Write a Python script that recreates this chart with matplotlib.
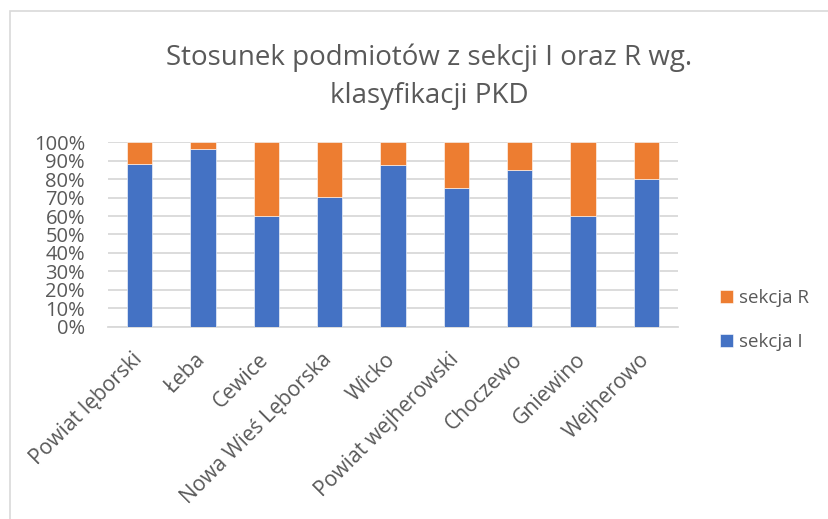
import matplotlib
matplotlib.use("Agg")
import matplotlib.pyplot as plt
import matplotlib.transforms as mtransforms
from matplotlib.patches import Rectangle
from matplotlib.ticker import FuncFormatter

categories = ["Powiat lęborski", "Łeba", "Cewice", "Nowa Wieś Lęborska", "Wicko",
              "Powiat wejherowski", "Choczewo", "Gniewino", "Wejherowo"]
sekcja_I = [88.4, 96.4, 60.2, 70.5, 87.5, 75.4, 85.2, 59.9, 80.3]
sekcja_R = [100 - v for v in sekcja_I]
yticks = list(range(0, 101, 10))

BLUE = "#4472C4"
ORANGE = "#ED7D31"
TXT = "#595959"
GRID = "#D9D9D9"
FONT = ["Open Sans", "DejaVu Sans"]

W, H = 829, 519
fig = plt.figure(figsize=(W / 100, H / 100), dpi=100)
fig.patch.set_facecolor("white")

# chart border (right and bottom edges lie outside the image)
fig.add_artist(Rectangle((10 / W, -0.05), 1.0, (H - 11) / H + 0.05,
                         transform=fig.transFigure, fill=False, edgecolor=GRID, lw=1.2))

x0, x1 = 108, 678
ytop, ybot = 142.3, 326.7
ax = fig.add_axes([x0 / W, 1 - ybot / H, (x1 - x0) / W, (ybot - ytop) / H])
ax.set_facecolor("none")

xs = range(len(categories))
ax.bar(xs, sekcja_I, width=0.395, color=BLUE, label="sekcja I", zorder=3,
       edgecolor="white", linewidth=0.4)
ax.bar(xs, sekcja_R, bottom=sekcja_I, width=0.395, color=ORANGE, label="sekcja R", zorder=3,
       edgecolor="white", linewidth=0.4)

ax.set_xlim(-0.5, len(categories) - 0.5)
ax.set_ylim(0, 100)
ax.set_yticks(yticks)
ax.yaxis.set_major_formatter(FuncFormatter(lambda v, p: f"{int(v)}%"))
ax.grid(axis="y", color=GRID, lw=1.3, zorder=0)
for s in ["top", "right", "left"]:
    ax.spines[s].set_visible(False)
ax.spines["bottom"].set_color(GRID)
ax.spines["bottom"].set_linewidth(1.3)
ax.tick_params(axis="both", length=0, colors=TXT)
ax.tick_params(axis="y", pad=16.5)
for lab in ax.get_yticklabels():
    lab.set_fontfamily(FONT)
    lab.set_fontsize(14.5)
    lab.set_color(TXT)
    lab.set_ha("right")

ax.set_xticks(list(xs))
ax.set_xticklabels(categories, rotation=45, ha="right", va="top", rotation_mode="anchor",
                   fontsize=15.2, color=TXT, family=FONT)
ax.tick_params(axis="x", pad=16)
shift = mtransforms.ScaledTranslation(-8 / 100, 0, fig.dpi_scale_trans)
for lab in ax.get_xticklabels():
    lab.set_transform(lab.get_transform() + shift)

fig.text(429 / W, 1 - 58 / H, "Stosunek podmiotów z sekcji I oraz R wg.", ha="center", va="center",
         fontsize=20, color=TXT, family=FONT)
fig.text(429 / W, 1 - 96 / H, "klasyfikacji PKD", ha="center", va="center",
         fontsize=20, color=TXT, family=FONT)

handles, labels = ax.get_legend_handles_labels()
leg = fig.legend(handles[::-1], labels[::-1], loc="center left",
                 bbox_to_anchor=(703 / W, 1 - 320 / H), frameon=False,
                 prop={"family": FONT, "size": 13.5}, handlelength=0.7, handleheight=0.7,
                 handletextpad=0.3, labelspacing=1.4)
for t in leg.get_texts():
    t.set_color(TXT)

fig.savefig("out.png", dpi=100, facecolor="white")
